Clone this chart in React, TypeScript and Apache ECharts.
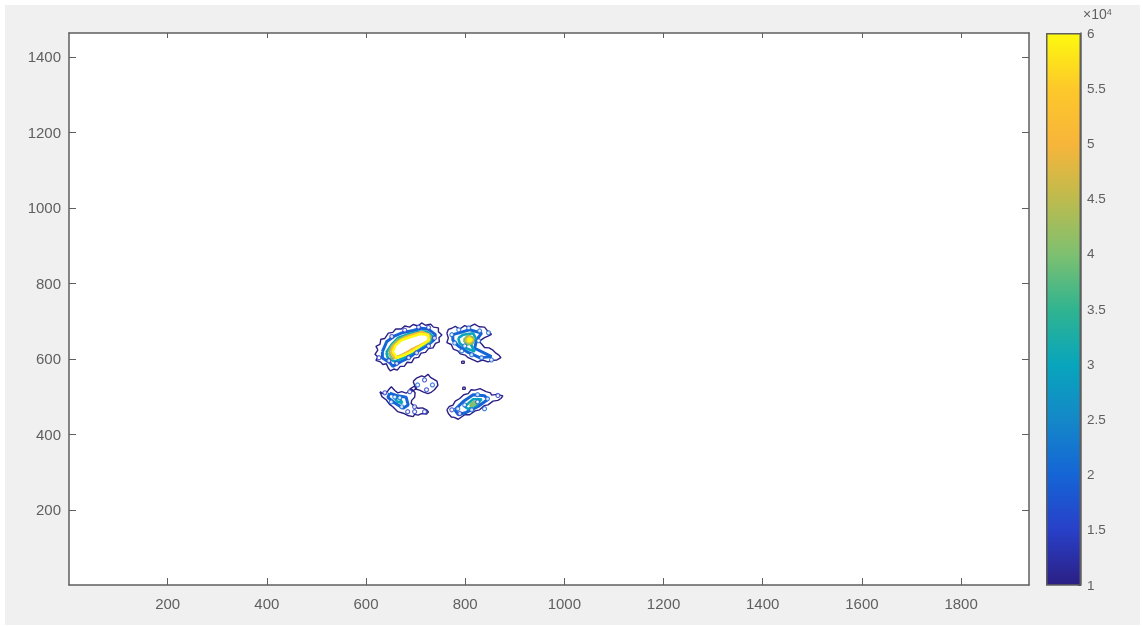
import React, { useEffect, useRef } from "react";
import * as echarts from "echarts";

type Pt = [number, number];

const xTicks = [200, 400, 600, 800, 1000, 1200, 1400, 1600, 1800];
const yTicks = [200, 400, 600, 800, 1000, 1200, 1400];
const barTicks = [1, 1.5, 2, 2.5, 3, 3.5, 4, 4.5, 5, 5.5, 6];
const barColors = ["#2b1f84", "#2840c8", "#1565d6", "#1488c8", "#08a5bc", "#30b490", "#7ec070", "#bdbb4e", "#f7b53a", "#fdc82a", "#fdf90f"];

const level1: Pt[][] = [
  [[624, 624], [618, 612], [624, 605], [620, 596], [629, 592], [634, 585], [641, 587], [645, 575], [649, 568], [656, 573], [663, 570], [669, 580], [677, 580], [683, 591], [692, 590], [697, 602], [706, 604], [711, 615], [720, 617], [726, 627], [735, 629], [740, 641], [748, 645], [747, 656], [753, 663], [746, 672], [746, 682], [736, 684], [730, 692], [720, 689], [712, 695], [705, 687], [695, 691], [688, 684], [678, 687], [671, 679], [660, 679], [654, 670], [645, 668], [638, 654], [630, 652], [628, 638], [620, 633]],
  [[763, 668], [766, 678], [773, 681], [780, 686], [789, 679], [799, 688], [807, 684], [819, 692], [828, 685], [839, 684], [845, 674], [853, 665], [846, 660], [839, 656], [833, 651], [829, 645], [834, 638], [839, 630], [848, 629], [856, 623], [862, 615], [868, 610], [872, 603], [864, 597], [856, 596], [846, 592], [835, 597], [825, 592], [815, 598], [806, 603], [800, 610], [790, 613], [785, 621], [776, 626], [772, 638], [763, 643], [766, 655]],
  [[695, 540], [702, 549], [712, 555], [718, 552], [725, 559], [730, 551], [743, 541], [745, 530], [738, 518], [732, 512], [725, 508], [716, 512], [708, 517], [700, 520], [698, 530]],
  [[688, 520], [698, 528], [702, 522], [694, 514]],
  [[628, 513], [634, 508], [641, 509], [646, 519], [651, 526], [658, 516], [664, 510], [672, 513], [681, 509], [688, 516], [693, 519], [699, 510], [698, 498], [692, 490], [691, 482], [698, 474], [705, 469], [714, 470], [722, 465], [726, 459], [722, 454], [712, 455], [705, 451], [698, 453], [695, 447], [684, 450], [675, 456], [664, 460], [654, 473], [647, 480], [641, 491], [632, 500]],
  [[763, 465], [768, 474], [775, 477], [780, 488], [789, 495], [797, 505], [806, 508], [812, 518], [820, 517], [830, 521], [842, 513], [851, 510], [853, 504], [864, 506], [876, 502], [872, 495], [866, 490], [856, 488], [846, 478], [838, 476], [829, 465], [820, 462], [809, 452], [799, 452], [786, 440], [778, 445], [772, 446], [766, 455]],
  [[795, 525], [800, 525], [800, 519], [795, 519]],
  [[793, 594], [798, 594], [798, 588], [793, 588]],
];
const level2: Pt[][] = [
  [[633, 619], [633, 602], [648, 590], [654, 580], [671, 593], [688, 604], [703, 619], [722, 634], [736, 649], [740, 664], [725, 679], [712, 681], [695, 675], [675, 670], [658, 661], [642, 646]],
  [[775, 664], [786, 668], [809, 677], [833, 668], [823, 650], [819, 628], [839, 615], [853, 606], [829, 603], [806, 617], [786, 634], [775, 650]],
  [[648, 509], [664, 502], [681, 498], [685, 478], [675, 469], [658, 483], [644, 498]],
  [[779, 465], [796, 487], [816, 505], [839, 502], [846, 493], [826, 474], [802, 458], [786, 452]],
];
const level3: Pt[][] = [
  [[641, 617], [644, 602], [658, 593], [675, 602], [691, 615], [708, 631], [728, 643], [735, 659], [722, 672], [705, 672], [685, 665], [664, 655], [651, 637]],
  [[786, 655], [796, 664], [816, 668], [821, 655], [812, 637], [819, 619], [802, 628], [789, 641]],
  [[658, 498], [668, 496], [673, 483], [662, 487]],
  [[799, 474], [816, 493], [833, 493], [823, 478], [806, 467]],
];
const level4: Pt[][] = [
  [[646, 617], [652, 600], [671, 609], [688, 620], [705, 632], [725, 644], [731, 659], [718, 669], [701, 667], [681, 660], [664, 650], [652, 634]],
  [[797, 650], [806, 661], [817, 655], [814, 641], [804, 637]],
  [[809, 478], [819, 487], [824, 483], [814, 474]],
];
const level5: Pt[][] = [
  [[650, 619], [658, 602], [675, 611], [691, 624], [708, 635], [727, 648], [727, 664], [712, 671], [694, 664], [677, 655], [665, 645], [654, 633]],
  [[801, 650], [808, 658], [816, 650], [809, 643]],
];
const level6: Pt[][] = [
  [[654, 619], [662, 603], [678, 610], [695, 621], [712, 636], [727, 650], [724, 664], [709, 666], [690, 658], [671, 649], [659, 635]],
  [[804, 650], [809, 654], [813, 650], [808, 646]],
];
const levels: [number, Pt[][]][] = [[1, level1], [2, level2], [3, level3], [4, level4], [5, level5], [6, level6]];

const holesBlue: Pt[] = [[773, 664], [787, 677], [807, 682], [829, 674], [847, 669], [779, 642], [793, 621], [813, 611], [833, 603], [853, 597], [827, 648], [799, 634], [658, 499], [668, 497], [651, 486], [672, 473], [799, 478], [813, 465], [825, 486], [839, 468], [845, 494], [825, 505], [785, 468], [704, 531], [734, 531]];
const holesDark: Pt[] = [[626, 603], [646, 595], [662, 588], [686, 603], [702, 616], [726, 634], [738, 655], [652, 659], [678, 676], [706, 684], [726, 683], [638, 510], [684, 460], [698, 460], [718, 460], [688, 513], [698, 473], [773, 465], [789, 455], [866, 503], [718, 544], [722, 518]];

const GREY = "#5f5f5f";
const FONT = "Liberation Sans";
const plain = (v: number) => String(v);

function flatten(loops: Pt[][]) {
  const out: (Pt | null)[] = [];
  loops.forEach((l) => {
    out.push(...l, l[0], null);
  });
  return out;
}
function colorOf(level: number) {
  return barColors[barTicks.indexOf(level)];
}

export default function App() {
  const ref = useRef<HTMLDivElement>(null);
  useEffect(() => {
    document.body.style.margin = "0";
    const chart = echarts.init(ref.current!, undefined, { renderer: "svg" });
    const line = { lineStyle: { color: GREY, width: 1.5 } };
    const tick = { show: true, inside: true, length: 7, lineStyle: { color: GREY, width: 1 } };
    const mainX = { type: "value", gridIndex: 0, min: 1, max: 1937 };
    const holes = (data: Pt[], color: string) => ({
      type: "scatter", xAxisIndex: 0, yAxisIndex: 0, data, symbol: "circle", symbolSize: 4, silent: true, z: 5,
      itemStyle: { color: "#ffffff", borderColor: color, borderWidth: 1.2 },
    });
    chart.setOption({
      animation: false,
      textStyle: { fontFamily: FONT },
      grid: [
        { left: 69, top: 33, width: 960, height: 552, show: true, backgroundColor: "#ffffff", borderWidth: 0 },
        { left: 1046, top: 33, width: 35, height: 552, show: false },
      ],
      xAxis: [
        {
          ...mainX, position: "bottom", axisLine: { show: true, ...line }, splitLine: { show: false },
          axisTick: { ...tick, customValues: xTicks },
          axisLabel: { color: GREY, fontSize: 15, margin: 11, customValues: xTicks, fontFamily: FONT, formatter: plain },
        },
        {
          ...mainX, position: "top", axisLine: { show: true, ...line }, splitLine: { show: false },
          axisTick: { ...tick, length: 5, customValues: xTicks }, axisLabel: { show: false },
        },
        { type: "category", gridIndex: 1, data: ["c"], axisLine: { show: false }, axisTick: { show: false }, axisLabel: { show: false } },
      ],
      yAxis: [
        {
          type: "value", gridIndex: 0, min: 1, max: 1463, position: "left", axisLine: { show: true, ...line }, splitLine: { show: false },
          axisTick: { ...tick, customValues: yTicks },
          axisLabel: { color: GREY, fontSize: 15, margin: 8, customValues: yTicks, fontFamily: FONT, formatter: plain },
        },
        {
          type: "value", gridIndex: 0, min: 1, max: 1463, position: "right", axisLine: { show: true, ...line }, splitLine: { show: false },
          axisTick: { ...tick, customValues: yTicks }, axisLabel: { show: false },
        },
        {
          type: "value", gridIndex: 1, min: 1, max: 6, position: "right", splitLine: { show: false },
          axisLine: { show: true, ...line },
          axisTick: { show: true, inside: true, length: 3, lineStyle: { color: "#333", width: 1 }, customValues: barTicks },
          axisLabel: { color: GREY, fontSize: 13.5, margin: 6, customValues: barTicks, fontFamily: FONT, showMinLabel: true, showMaxLabel: true, formatter: plain },
        },
      ],
      series: [
        ...levels.map(([lv, loops]) => ({
          type: "line", xAxisIndex: 0, yAxisIndex: 0, data: flatten(loops), showSymbol: false, symbol: "none",
          connectNulls: false, lineStyle: { color: colorOf(lv), width: lv === 1 ? 1.4 : lv === 2 ? 3 : 2.6 }, silent: true,
        })),
        holes(holesBlue, barColors[2]),
        holes(holesDark, barColors[1]),
        {
          type: "bar", xAxisIndex: 2, yAxisIndex: 2, data: [6], barWidth: "100%", silent: true,
          itemStyle: {
            color: new echarts.graphic.LinearGradient(0, 1, 0, 0, barColors.map((c, i) => ({ offset: i / (barColors.length - 1), color: c }))),
            borderColor: GREY, borderWidth: 1.5,
          },
        },
      ],
      graphic: [
        {
          type: "text", left: 1083, top: 7,
          style: {
            text: "×10{s|4}", fill: GREY, fontSize: 14, fontFamily: FONT,
            rich: { s: { fontSize: 9, verticalAlign: "top", fill: GREY, fontFamily: FONT } },
          },
        },
      ],
    });
    return () => chart.dispose();
  }, []);
  return (
    <div style={{ position: "relative", width: 1143, height: 626, background: "#ffffff", overflow: "hidden" }}>
      <div style={{ position: "absolute", left: 5, top: 5, width: 1135, height: 620, background: "#f0f0f0" }} />
      <div ref={ref} style={{ position: "absolute", left: 0, top: 0, width: 1143, height: 626, filter: "blur(0.6px)" }} />
    </div>
  );
}
